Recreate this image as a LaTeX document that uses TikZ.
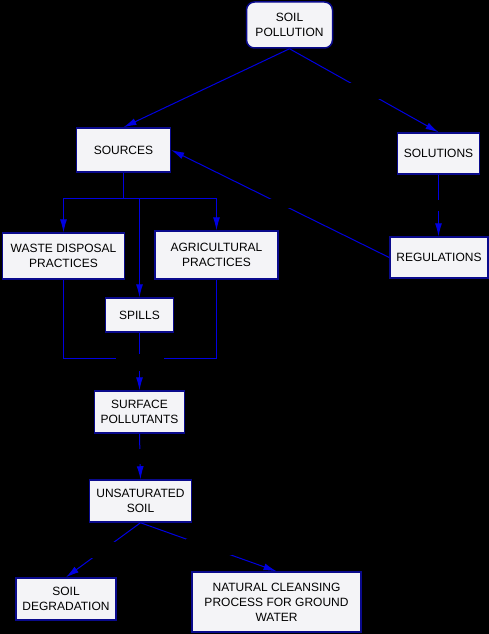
\documentclass[tikz,border=0pt]{standalone}
\usepackage{fontspec}
\setmainfont{Liberation Sans}
\usetikzlibrary{arrows.meta}
\definecolor{boxline}{RGB}{10,10,140}
\definecolor{boxfill}{RGB}{244,244,247}
\definecolor{linkblue}{RGB}{0,0,225}
\tikzset{
	box/.style={draw=boxline, fill=boxfill, line width=1.5pt, align=center, inner sep=2pt, font=\fontsize{12}{15}\selectfont},
	link/.style={draw=linkblue, line width=1pt},
	arr/.style={link, -{Latex[length=13pt,width=7pt]}},
	gap/.style={fill=black, inner sep=0pt, minimum width=46pt, minimum height=16pt},
}

\begin{document}
\begin{tikzpicture}[x=1pt, y=-1pt]
		%%%%% START %%%%%
		
		\fill[black] (0, 0) rectangle (489, 634);
		\useasboundingbox (0, 0) rectangle (489, 634);
		
		\node[box, rounded corners=8pt, minimum width=86, minimum height=46] (poll) at (289.5, 25) {SOIL\\POLLUTION};
		
		\node[box, minimum width=94, minimum height=44] (sources) at (123.5, 150) {SOURCES};
		\node[box, minimum width=82, minimum height=41] (solutions) at (438.5, 153.5) {SOLUTIONS};
		\node[box, minimum width=98, minimum height=41] (regs) at (439, 257.5) {REGULATIONS};
		
		\node[box, minimum width=122, minimum height=46] (waste) at (63.5, 256) {WASTE DISPOSAL\\PRACTICES};
		\node[box, minimum width=123, minimum height=48] (agri) at (216.5, 255) {AGRICULTURAL\\PRACTICES};
		\node[box, minimum width=68, minimum height=34] (spills) at (139.5, 315) {SPILLS};
		
		\node[box, minimum width=90, minimum height=42] (surface) at (139.5, 412) {SURFACE\\POLLUTANTS};
		\node[box, minimum width=102, minimum height=42] (unsat) at (140.5, 501) {UNSATURATED\\SOIL};
		
		\node[box, minimum width=100, minimum height=42] (degrad) at (66, 599) {SOIL\\DEGRADATION};
		\node[box, minimum width=169, minimum height=60] (natural) at (276.5, 602) {NATURAL CLEANSING\\PROCESS FOR GROUND\\WATER};
		
		\draw[arr] (poll.south) -- (sources.north);
		\draw[arr] (poll.south) -- node[gap] (gsol) {} (solutions.north);
		\draw[arr] (solutions.south) -- node[gap, minimum height=11] (greg) {} (solutions.south |- regs.north);
		\draw[arr] (regs.west) -- node[gap, minimum height=9] (gsrc) {} (sources.east);
		
		\coordinate (split) at (123.5, 198.5);
		\draw[link] (sources.south) -- (split);
		\draw[arr] (split) -| (waste.north);
		\draw[arr] (split) -| (agri.north);
		\draw[arr] (split) -| (spills.north);
		
		\coordinate (join) at (139.5, 358.5);
		\draw[link] (waste.south) |- (join);
		\draw[link] (agri.south) |- (join);
		\draw[link] (spills.south) -- (join);
		\draw[arr] (join) -- (surface.north);
		\node[gap, minimum width=48, minimum height=17] (gjoin) at (139.5, 362) {};
		
		\draw[arr] (surface.south) -- node[gap, minimum height=15] (gsur) {} (unsat.north);
		\draw[arr] (unsat.south) -- node[gap] (gdeg) {} (degrad.north);
		\draw[arr] (unsat.south) -- node[gap] (gnat) {} (natural.north);
		
		%%%%% END %%%%%
	\end{tikzpicture}
\end{document}
